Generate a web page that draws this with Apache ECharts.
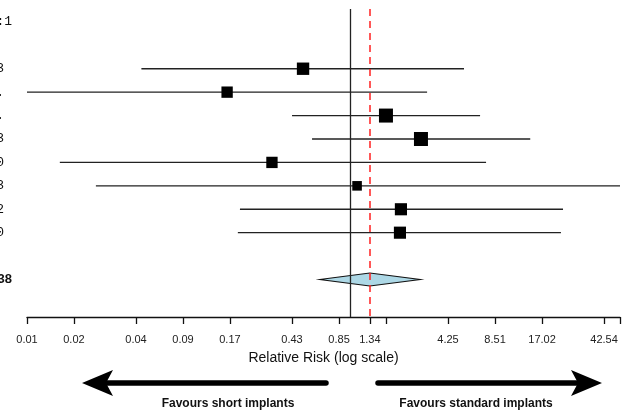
<!doctype html>
<html>
<head>
<meta charset="UTF-8">
<title>Forest plot</title>
<script src="https://cdn.jsdelivr.net/npm/echarts@6.0.0/dist/echarts.min.js"></script>
<style>
  html, body { margin: 0; padding: 0; background: #fff; }
  #main { width: 627px; height: 414px; }
</style>
</head>
<body>
<div id="main"></div>
<script type="text/javascript">
// row labels (only the tail is visible, the plot is cropped on the left)
var headerLabel = 'Ratio 1:1';
var studies = ['Study 1, 2013', 'Study 2 et al.', 'Study 3 et al.', 'Study 4, 2013',
               'Study 5, 2010', 'Study 6, 2013', 'Study 7, 2012', 'Study 8, 2010'];
var pooledLabel = 'Pooled RR, p = 0.38';

// relative risks with 95% CI
var rrEst  = [0.50, 0.163, 1.70, 2.85, 0.316, 1.11, 2.12, 2.09];
var rrLow  = [0.046, 0.0085, 0.425, 0.571, 0.0138, 0.0235, 0.197, 0.191];
var rrHigh = [5.38, 3.12, 6.82, 14.3, 7.45, 53.8, 23.2, 22.5];
var weights = [12.5, 10.5, 16.0, 16.0, 10.5, 7.5, 12.0, 12.0];
var pooledEst = 1.34, pooledLow = 0.64, pooledHigh = 2.82;

// axis ticks (log scale)
var tickValues = [0.0085, 0.017, 0.0425, 0.085, 0.17, 0.425, 0.851, 1.34, 1.70, 4.25, 8.51, 17.02, 42.54, 53.8];
var tickLabels = ['0.01', '0.02', '0.04', '0.09', '0.17', '0.43', '0.85', '1.34', '', '4.25', '8.51', '17.02', '42.54', ''];
var axisMinRR = 0.0085, axisMaxRR = 53.8;

var ln = Math.log;
var tickLn = tickValues.map(function (v) { return ln(v); });
var rowLabels = {0: headerLabel, 11: pooledLabel};
for (var i = 0; i < studies.length; i++) rowLabels[i + 2] = studies[i];

var ciData = [], boxData = [];
for (var i = 0; i < studies.length; i++) {
  ciData.push([ln(rrLow[i]), ln(rrHigh[i]), i + 2]);
  boxData.push([ln(rrEst[i]), i + 2]);
}

var chart = echarts.init(document.getElementById('main'));
var option = {
  animation: false,
  backgroundColor: '#fff',
  grid: { left: 27, right: 7, top: 9, bottom: 97, outerBoundsMode: 'none' },
  xAxis: {
    type: 'value',
    position: 'bottom',
    min: ln(axisMinRR),
    max: ln(axisMaxRR),
    splitLine: { show: false },
    axisLine: { onZero: false, lineStyle: { color: '#111', width: 1.3 } },
    axisTick: { customValues: tickLn, length: 7, lineStyle: { color: '#111', width: 1.3 } },
    axisLabel: {
      customValues: tickLn,
      margin: 17,
      fontSize: 11,
      color: '#222',
      fontFamily: 'Liberation Sans',
      formatter: function (v) {
        var best = 0;
        for (var k = 0; k < tickLn.length; k++) {
          if (Math.abs(tickLn[k] - v) < Math.abs(tickLn[best] - v)) best = k;
        }
        return tickLabels[best];
      }
    },
    name: 'Relative Risk (log scale)',
    nameLocation: 'middle',
    nameGap: 34,
    nameTextStyle: { fontSize: 14, color: '#111', fontFamily: 'Liberation Sans' }
  },
  yAxis: {
    type: 'value',
    inverse: true,
    min: -0.55,
    max: 12.6,
    axisLine: { show: false },
    axisTick: { show: false },
    splitLine: { show: false },
    axisLabel: {
      customValues: [0, 2, 3, 4, 5, 6, 7, 8, 9, 11],
      margin: 15,
      fontSize: 13,
      color: '#111',
      fontFamily: 'Liberation Mono',
      formatter: function (v) {
        var r = Math.round(v);
        if (r === 11) return '{b|' + rowLabels[r] + '}';
        if (r === 0) return '{h|' + rowLabels[r] + '}';
        return '{s|' + rowLabels[r] + '}';
      },
      rich: {
        h: { fontSize: 13, fontFamily: 'Liberation Mono', color: '#111' },
        s: { fontSize: 13, fontFamily: 'Liberation Mono', color: '#111', padding: [0, 8, 0, 0] },
        b: { fontSize: 13, fontWeight: 'bold', fontFamily: 'Liberation Sans', color: '#111' }
      }
    }
  },
  series: [
    {
      // confidence intervals
      type: 'custom',
      z: 2,
      clip: false,
      encode: { x: [0, 1], y: 2 },
      data: ciData,
      renderItem: function (params, api) {
        var p1 = api.coord([api.value(0), api.value(2)]);
        var p2 = api.coord([api.value(1), api.value(2)]);
        return {
          type: 'line',
          shape: { x1: p1[0], y1: p1[1], x2: p2[0], y2: p2[1] },
          style: { stroke: '#222', lineWidth: 1.3 }
        };
      },
      markLine: {
        silent: true,
        symbol: 'none',
        label: { show: false },
        data: [
          { xAxis: 0, lineStyle: { color: '#222', type: 'solid', width: 1.3 } },
          { xAxis: ln(pooledEst), lineStyle: { color: '#ff2020', type: [7, 5], width: 1.5 } }
        ]
      }
    },
    {
      // point estimates, box size by weight
      type: 'scatter',
      z: 3,
      symbol: 'rect',
      symbolSize: function (val, params) {
        return 3.5 * Math.sqrt(weights[params.dataIndex]);
      },
      itemStyle: { color: '#000', opacity: 1 },
      data: boxData
    },
    {
      // pooled estimate
      type: 'custom',
      z: 4,
      encode: { x: [0, 1, 2], y: 3 },
      data: [[ln(pooledLow), ln(pooledEst), ln(pooledHigh), 11]],
      renderItem: function (params, api) {
        var y = api.value(3);
        var a = api.coord([api.value(0), y]);
        var c = api.coord([api.value(1), y]);
        var b = api.coord([api.value(2), y]);
        var h = 6.5;
        return {
          type: 'polygon',
          shape: { points: [[a[0], a[1]], [c[0], c[1] - h], [b[0], b[1]], [c[0], c[1] + h]] },
          style: { fill: '#add8e6', stroke: '#111', lineWidth: 1.1 }
        };
      }
    }
  ],
  graphic: [
    { type: 'line', shape: { x1: 106, y1: 383, x2: 326, y2: 383 }, style: { stroke: '#000', lineWidth: 5.5, lineCap: 'round' } },
    { type: 'polygon', shape: { points: [[82, 383], [113, 370], [106, 383], [113, 396]] }, style: { fill: '#000' } },
    { type: 'line', shape: { x1: 378, y1: 383, x2: 578, y2: 383 }, style: { stroke: '#000', lineWidth: 5.5, lineCap: 'round' } },
    { type: 'polygon', shape: { points: [[602, 383], [571, 370], [578, 383], [571, 396]] }, style: { fill: '#000' } },
    { type: 'text', x: 228, y: 404, style: { text: 'Favours short implants', fill: '#111', font: 'bold 12px "Liberation Sans"', textAlign: 'center', textVerticalAlign: 'middle' } },
    { type: 'text', x: 476, y: 404, style: { text: 'Favours standard implants', fill: '#111', font: 'bold 12px "Liberation Sans"', textAlign: 'center', textVerticalAlign: 'middle' } }
  ]
};
chart.setOption(option);
</script>
</body>
</html>
